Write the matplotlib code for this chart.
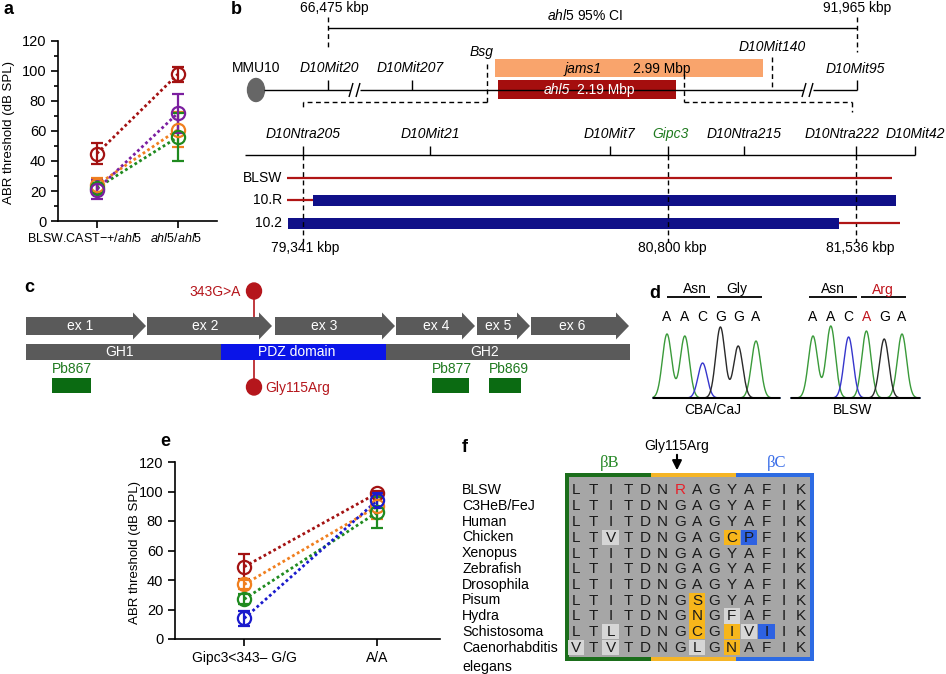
import numpy as np
import matplotlib
matplotlib.use('Agg')
import matplotlib.pyplot as plt
from matplotlib.patches import Rectangle, Ellipse, Polygon

plt.rcParams['font.family'] = ['Liberation Sans', 'DejaVu Sans']
plt.rcParams['mathtext.fontset'] = 'custom'
plt.rcParams['mathtext.rm'] = 'Liberation Sans'
plt.rcParams['mathtext.it'] = 'Liberation Sans:italic'

# ---------------- data ----------------
# panel a
a_labels = ['BLSW.CAST−+/$\\mathit{ahl5}$', '$\\mathit{ahl5/ahl5}$']
a_red_mean, a_red_err = [45, 98], [7, 5]
a_orange_mean, a_orange_err = [24, 61], [5, 11.5]
a_green_mean, a_green_err = [22, 56], [3.5, 16]
a_purple_mean, a_purple_err = [21, 72], [6.5, 13]

# panel e
e_labels = ['Gipc3<343– G/G', 'A/A']
e_red_mean, e_red_err = [49, 99], [8.5, 1.5]
e_orange_mean, e_orange_err = [37, 90], [3, 8.5]
e_green_mean, e_green_err = [27, 86], [3.5, 10.5]
e_blue_mean, e_blue_err = [14, 94], [5, 5]

# panel b
b_upper_markers = ['D10Mit20', 'D10Mit207', 'D10Mit140', 'D10Mit95']
b_lower_markers = ['D10Ntra205', 'D10Mit21', 'D10Mit7', 'Gipc3', 'D10Ntra215', 'D10Ntra222', 'D10Mit42']
b_strains = ['BLSW', '10.R', '10.2']
b_kbp_top = ['66,475 kbp', '91,965 kbp']
b_kbp_bottom = ['79,341 kbp', '80,800 kbp', '81,536 kbp']

# panel c
c_exons = ['ex 1', 'ex 2', 'ex 3', 'ex 4', 'ex 5', 'ex 6']
c_domains = ['GH1', 'PDZ domain', 'GH2']
c_probes = ['Pb867', 'Pb877', 'Pb869']

# panel d
d_left_bases = ['A', 'A', 'C', 'G', 'G', 'A']
d_left_heights = [64, 62, 35, 71, 52, 57]
d_right_bases = ['A', 'A', 'C', 'A', 'G', 'A']
d_right_heights = [62, 72, 61, 67, 59, 64]

# panel f
f_species = ['BLSW', 'C3HeB/FeJ', 'Human', 'Chicken', 'Xenopus', 'Zebrafish',
             'Drosophila', 'Pisum', 'Hydra', 'Schistosoma', 'Caenorhabditis\nelegans']
f_seqs = ['LTITDNRAGYAFIK', 'LTITDNGAGYAFIK', 'LTITDNGAGYAFIK', 'LTVTDNGAGCPFIK',
          'LTITDNGAGYAFIK', 'LTITDNGAGYAFIK', 'LTITDNGAGYAFIK', 'LTITDNGSGYAFIK',
          'LTITDNGNGFAFIK', 'LTLTDNGCGIVIIK', 'VTVTDNGLGNAFIK']
# (row, col, kind)
f_highlights = [(3, 2, 'l'), (3, 9, 'y'), (3, 10, 'b'),
                (7, 7, 'y'),
                (8, 7, 'y'), (8, 9, 'l'),
                (9, 2, 'l'), (9, 7, 'y'), (9, 9, 'y'), (9, 10, 'l'), (9, 11, 'b'),
                (10, 0, 'l'), (10, 2, 'l'), (10, 7, 'l'), (10, 9, 'y')]

RED = '#a31212'
ORANGE = '#f07f1e'
GREEN = '#1f8a1f'
PURPLE = '#7b1fa0'
BLUE = '#1a1acc'

W, H = 946, 674
fig = plt.figure(figsize=(W / 100, H / 100), dpi=100)
cv = fig.add_axes([0, 0, 1, 1])
cv.set_xlim(0, W)
cv.set_ylim(H, 0)
cv.axis('off')


def T(x, y, s, size=10, **kw):
    kw.setdefault('ha', 'center')
    kw.setdefault('va', 'center')
    cv.text(x, y, s, fontsize=size, **kw)


def L(xs, ys, **kw):
    kw.setdefault('color', 'black')
    kw.setdefault('lw', 1.0)
    cv.plot(xs, ys, solid_capstyle='butt', **kw)


DASH = (0, (3.5, 2.5))


def px_axes(l, t, r, b):
    return fig.add_axes([l / W, 1 - b / H, (r - l) / W, (b - t) / H])


def style_ax(ax):
    for s in ['top', 'right']:
        ax.spines[s].set_visible(False)
    for s in ['left', 'bottom']:
        ax.spines[s].set_linewidth(1.2)
    ax.tick_params(direction='out', length=5, width=1.2, labelsize=10.5)
    ax.patch.set_alpha(0)


def draw_series(ax, mean, err, color):
    x = np.arange(len(mean))
    ax.plot(x, mean, ls=(0, (1.0, 1.0)), lw=2, color=color, zorder=2)
    ax.errorbar(x, mean, yerr=err, fmt='o', mfc='none', mec=color, ms=9.5, mew=1.6,
                ecolor=color, elinewidth=1.6, capsize=4, capthick=1.6, zorder=3)


# ---------------- panel a ----------------
axa = px_axes(58, 41, 217, 221)
style_ax(axa)
draw_series(axa, a_red_mean, a_red_err, RED)
draw_series(axa, a_orange_mean, a_orange_err, ORANGE)
draw_series(axa, a_green_mean, a_green_err, GREEN)
draw_series(axa, a_purple_mean, a_purple_err, PURPLE)
axa.set_ylim(0, 120)
axa.set_xlim(-0.48, 1.48)
axa.set_yticks(np.arange(0, 121, 20))
axa.set_yticks(np.arange(10, 120, 20), minor=True)
axa.tick_params(which='minor', length=3, width=1.2)
axa.set_xticks([0, 1])
axa.set_xticklabels([])
T(85, 238, a_labels[0], size=9)
T(176, 238, a_labels[1], size=9)
T(9, 132, 'ABR threshold (dB SPL)', size=9.5, rotation=90)
T(8, 9, 'a', size=13, weight='bold')

# ---------------- panel e ----------------
axe = px_axes(175, 462, 440, 639)
style_ax(axe)
draw_series(axe, e_red_mean, e_red_err, RED)
draw_series(axe, e_orange_mean, e_orange_err, ORANGE)
draw_series(axe, e_green_mean, e_green_err, GREEN)
draw_series(axe, e_blue_mean, e_blue_err, BLUE)
axe.set_ylim(0, 120)
axe.set_xlim(-0.52, 1.47)
axe.set_yticks(np.arange(0, 121, 20))
axe.set_xticks([0, 1])
axe.set_xticklabels(e_labels, fontsize=10)
T(135, 552, 'ABR threshold (dB SPL)', size=9.5, rotation=90)
T(165, 441, 'e', size=13, weight='bold')

# ---------------- panel b ----------------
T(236, 10, 'b', size=13, weight='bold')
T(334, 8, b_kbp_top[0])
T(857, 8, b_kbp_top[1])
T(585, 16, '$\\mathit{ahl5}$ 95% CI')
L([328, 857], [28, 28])
L([328, 328], [17, 50], ls=DASH)
L([857, 857], [17, 52], ls=DASH)
# chromosome
cv.add_patch(Ellipse((256, 90), 17, 23, color='#666666'))
chrom_segments = [(264, 350), (360, 803), (813, 857)]
for x0, x1 in chrom_segments:
    L([x0, x1], [90, 90])
for xc in (355, 808):
    L([xc - 6, xc - 2], [97, 83])
    L([xc + 1, xc + 5], [97, 83])
T(256, 68, 'MMU10')
T(329, 68, b_upper_markers[0], style='italic')
T(410, 68, b_upper_markers[1], style='italic')
T(772, 47, b_upper_markers[2], style='italic')
T(855, 69, b_upper_markers[3], style='italic')
L([328, 328], [80, 90])
L([412, 412], [80, 90])
L([857, 857], [80, 90])
L([772, 772], [57, 90], ls=DASH)
T(482, 52, 'Bsg', style='italic')
L([487, 487], [64, 102], ls=DASH)
L([487, 303], [102, 102], ls=DASH)
L([303, 303], [102, 110], ls=DASH)
cv.add_patch(Rectangle((495, 59), 268, 18, color='#f9a46c', lw=0))
cv.add_patch(Rectangle((498, 80), 178, 19, color='#a50e0e', lw=0))
T(583, 69, 'jams1', style='italic')
T(662, 69, '2.99 Mbp')
T(557, 90, 'ahl5', style='italic', color='white')
T(606, 90, '2.19 Mbp', color='white')
L([684, 684], [74, 102], ls=DASH)
L([684, 852], [102, 102], ls=DASH)
L([852, 852], [102, 112], ls=DASH)
# lower map
low_x = [303, 430, 610, 668, 744, 856, 915]
low_lab_x = [303, 430, 609, 670, 744, 842, 915]
L([245, 915], [155, 155])
for i, name in enumerate(b_lower_markers):
    col = '#1f7a1f' if name == 'Gipc3' else 'black'
    T(low_lab_x[i], 134, name, style='italic', color=col)
    L([low_x[i], low_x[i]], [146, 155])
for xd in (303, 668, 856):
    L([xd, xd], [155, 242], ls=DASH)
row_y = [178, 200, 223]
for i, s in enumerate(b_strains):
    T(282, row_y[i], s, ha='right')
L([287, 892], [178, 178], color='#b01515', lw=1.6)
L([287, 313], [200, 200], color='#b01515', lw=1.6)
cv.add_patch(Rectangle((313, 194.5), 583, 11.5, color='#101088', lw=0))
cv.add_patch(Rectangle((288, 217.5), 551, 11.5, color='#101088', lw=0))
L([839, 900], [223, 223], color='#b01515', lw=1.6)
T(305, 248, b_kbp_bottom[0])
T(672, 248, b_kbp_bottom[1])
T(860, 248, b_kbp_bottom[2])

# ---------------- panel c ----------------
T(29, 287, 'c', size=13, weight='bold')
exon_x = [(26, 146), (147, 272), (275, 395), (396, 475), (477, 530), (531, 629)]
exon_lab = [80, 205, 324, 436, 498, 572]
for i, (x0, x1) in enumerate(exon_x):
    xh = x1 - 13
    cv.add_patch(Polygon([(x0, 317), (xh, 317), (xh, 312.5), (x1, 326), (xh, 339.5),
                          (xh, 335), (x0, 335)], closed=True, color='#5a5a5a', lw=0))
    T(exon_lab[i], 326, c_exons[i], color='white')
cv.add_patch(Rectangle((26, 344), 604, 16, color='#5a5a5a', lw=0))
cv.add_patch(Rectangle((221, 344), 165, 16, color='#0a14e8', lw=0))
T(119, 352, c_domains[0], color='white')
T(297, 352, c_domains[1], color='white')
T(485, 352, c_domains[2], color='white')
MUT = '#b5161c'
L([254, 254], [291, 317], color=MUT, lw=1.2)
L([254, 254], [360, 387], color=MUT, lw=1.2)
cv.add_patch(Ellipse((254, 291), 15, 16, color=MUT))
cv.add_patch(Ellipse((254, 387), 15, 16, color=MUT))
T(241, 292, '343G>A', ha='right', color=MUT)
T(265, 388, 'Gly115Arg', ha='left', color=MUT)
probe_x = [(52, 91), (432, 469), (489, 521)]
for i, (x0, x1) in enumerate(probe_x):
    cv.add_patch(Rectangle((x0, 378), x1 - x0, 15, color='#0b6b12', lw=0))
    T(x0, 369, c_probes[i], ha='left', color='#1f7a1f')

# ---------------- panel d ----------------
T(655, 293, 'd', size=13, weight='bold')
BASE_COL = {'A': '#3a9a3a', 'C': '#3636cc', 'G': '#2a2a2a', 'T': '#cc2222'}


def chromatogram(x0, x1, xfirst, bases, heights, base_y=398, step=17.8, sig=4.6):
    xs = np.linspace(x0, x1, 600)
    pos = [xfirst + step * i for i in range(len(bases))]
    for b in ['A', 'C', 'G']:
        tr = np.zeros_like(xs)
        for p, bb, h in zip(pos, bases, heights):
            if bb == b:
                tr += h * np.exp(-(xs - p) ** 2 / (2 * sig ** 2))
        cv.plot(xs, base_y - tr, color=BASE_COL[b], lw=1.0)
    L([x0, x1], [base_y, base_y], lw=1.5)
    return pos


pl = chromatogram(653, 780, 667, d_left_bases, d_left_heights)
pr = chromatogram(791, 920, 813, d_right_bases, d_right_heights)
for p, b in zip(pl, d_left_bases):
    T(p, 317, b)
for i, (p, b) in enumerate(zip(pr, d_right_bases)):
    T(p, 317, b, color='#c0141c' if i == 3 else 'black')
T(695, 289, 'Asn')
L([667, 710], [297, 297], lw=1.3)
T(737, 289, 'Gly')
L([717, 762], [297, 297], lw=1.3)
T(833, 289, 'Asn')
L([809, 857], [297, 297], lw=1.3)
T(883, 290, 'Arg', color='#c0141c')
L([861, 906], [297, 297], lw=1.3)
T(713, 410, 'CBA/CaJ')
T(853, 410, 'BLSW')

# ---------------- panel f ----------------
T(465, 447, 'f', size=13, weight='bold')
T(677, 446, 'Gly115Arg')
cv.annotate('', xy=(677, 473), xytext=(677, 452),
            arrowprops=dict(arrowstyle='-|>', color='black', lw=1.5, mutation_scale=14))
T(610, 463, 'βB', size=12, color='#2a8a2a', family=['Liberation Serif', 'DejaVu Serif'])
T(777, 463, 'βC', size=12, color='#3a6ee8', family=['Liberation Serif', 'DejaVu Serif'])
cv.add_patch(Rectangle((565, 473), 86, 188, color='#1b6e1b', lw=0))
cv.add_patch(Rectangle((651, 473), 85, 188, color='#f5b526', lw=0))
cv.add_patch(Rectangle((736, 473), 78, 188, color='#2d6be3', lw=0))
cv.add_patch(Rectangle((569, 477), 241, 180, color='#a6a6a6', lw=0))
col_x0, col_dx = 576, 17.3
row_y0, row_dy = 490, 15.75
HL = {'l': '#d6d6d6', 'y': '#f7b61b', 'b': '#2e62e2'}
for r, c, k in f_highlights:
    cv.add_patch(Rectangle((col_x0 + c * col_dx - 8.2, row_y0 + r * row_dy - 7.6),
                           16.4, 15.2, color=HL[k], lw=0))
for r, seq in enumerate(f_seqs):
    for c, ch in enumerate(seq):
        colr = '#e8202a' if (r == 0 and c == 6) else '#1a1a1a'
        T(col_x0 + c * col_dx, row_y0 + r * row_dy + 0.5, ch, color=colr, size=11)
for r, name in enumerate(f_species):
    y = row_y0 + r * row_dy
    if '\n' in name:
        a, b = name.split('\n')
        T(462, y, a, ha='left', size=10.2)
        T(462, y + 19, b, ha='left', size=10.2)
    else:
        T(462, y, name, ha='left', size=10.2)

fig.savefig('out.png', dpi=100)
